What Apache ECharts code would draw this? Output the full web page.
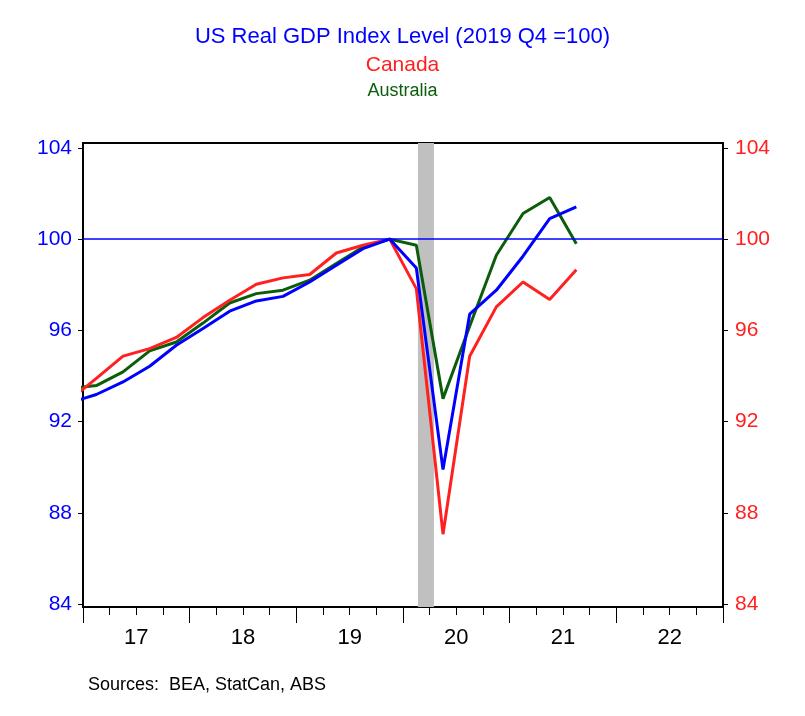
<!DOCTYPE html>
<html>
<head>
<meta charset="utf-8">
<script src="https://cdn.jsdelivr.net/npm/echarts@6/dist/echarts.min.js"></script>
<style>
html,body{margin:0;padding:0;background:#fff;}
#chart{width:805px;height:716px;}
</style>
</head>
<body>
<div id="chart"></div>
<script>
const quarters = ['2016Q4','2017Q1','2017Q2','2017Q3','2017Q4','2018Q1','2018Q2','2018Q3','2018Q4',
  '2019Q1','2019Q2','2019Q3','2019Q4','2020Q1','2020Q2','2020Q3','2020Q4','2021Q1','2021Q2','2021Q3'];
const usGDP = [92.83,93.19,93.74,94.43,95.35,96.08,96.84,97.29,97.49,98.12,98.85,99.58,100,98.73,89.90,96.71,97.76,99.25,100.90,101.41];
const canadaGDP = [92.94,93.90,94.87,95.20,95.69,96.56,97.32,98.02,98.30,98.45,99.39,99.73,100,97.83,87.07,94.87,97.03,98.12,97.35,98.66];
const australiaGDP = [93.45,93.58,94.18,95.10,95.49,96.32,97.20,97.61,97.76,98.20,98.93,99.65,100,99.73,93.01,96.18,99.29,101.12,101.82,99.80];
const yTicks = [84,88,92,96,100,104];
const yearLabels = [2017.5,2018.5,2019.5,2020.5,2021.5,2022.5];
const recession = [2020.14,2020.29];
const baseline = 100;

const FONT = "'Liberation Sans', Arial, sans-serif";
function qPos(q){ const y = parseInt(q.slice(0,4),10); const n = parseInt(q.slice(5),10); return y + (n-0.5)/4; }
function pairs(vals){ return quarters.map((q,i)=>[qPos(q), vals[i]]); }

const chart = echarts.init(document.getElementById('chart'), null, {renderer:'canvas'});
const yCommon = {
  type:'value', min:83.88, max:104.21,
  splitLine:{show:false},
  axisLine:{show:true, lineStyle:{color:'#000', width:2}},
  axisTick:{show:true, length:5, customValues:yTicks, lineStyle:{color:'#000', width:1}},
};
chart.setOption({
  animation:false,
  backgroundColor:'#fff',
  title:[
    {text:'US Real GDP Index Level (2019 Q4 =100)', left:'center', top:21, textStyle:{color:'#0000ff', fontSize:22, fontWeight:'normal', fontFamily:FONT}},
    {text:'Canada', left:'center', top:50, textStyle:{color:'#ff2020', fontSize:21, fontWeight:'normal', fontFamily:FONT}},
    {text:'Australia', left:'center', top:77, textStyle:{color:'#0b5d0b', fontSize:18, fontWeight:'normal', fontFamily:FONT}}
  ],
  graphic:[{type:'text', left:88, top:676, style:{text:'Sources:  BEA, StatCan, ABS', fill:'#000', fontSize:18, fontFamily:FONT}}],
  grid:{left:83, right:82, top:143, bottom:109, show:true, borderColor:'#000', borderWidth:2, backgroundColor:'transparent'},
  xAxis:{
    type:'value', min:2017, max:2023, interval:1,
    splitLine:{show:false},
    axisLine:{show:true, lineStyle:{color:'#000', width:2}},
    axisTick:{show:true, length:16, lineStyle:{color:'#000', width:1}},
    minorTick:{show:true, splitNumber:4, length:8, lineStyle:{color:'#000', width:1}},
    minorSplitLine:{show:false},
    axisLabel:{customValues:yearLabels, formatter:v=>String(Math.floor(v)%100), color:'#000', fontSize:22, fontFamily:FONT, margin:20}
  },
  yAxis:[
    Object.assign({}, yCommon, {position:'left', axisLabel:{customValues:yTicks, color:'#0000ff', fontSize:21, fontFamily:FONT, margin:11}}),
    Object.assign({}, yCommon, {position:'right', axisLabel:{customValues:yTicks, color:'#ff2020', fontSize:21, fontFamily:FONT, margin:12}})
  ],
  series:[
    {type:'line', name:'recession', data:[], silent:true,
     markArea:{silent:true, itemStyle:{color:'#c0c0c0', opacity:1}, data:[[{xAxis:recession[0]},{xAxis:recession[1]}]]}},
    {type:'line', name:'Australia', data:pairs(australiaGDP), showSymbol:false, lineStyle:{color:'#0b5d0b', width:3}, itemStyle:{color:'#0b5d0b'}, z:3},
    {type:'line', name:'Canada', data:pairs(canadaGDP), showSymbol:false, lineStyle:{color:'#ff2020', width:3}, itemStyle:{color:'#ff2020'}, z:4},
    {type:'line', name:'US', data:pairs(usGDP), showSymbol:false, lineStyle:{color:'#0000ff', width:3}, itemStyle:{color:'#0000ff'}, z:5,
     markLine:{silent:true, symbol:['none','none'], label:{show:false}, emphasis:{disabled:true},
       lineStyle:{color:'#0000ff', width:1.5, type:'solid', opacity:1}, itemStyle:{color:'#0000ff'}, data:[{yAxis:baseline}]}}
  ]
});
</script>
</body>
</html>
